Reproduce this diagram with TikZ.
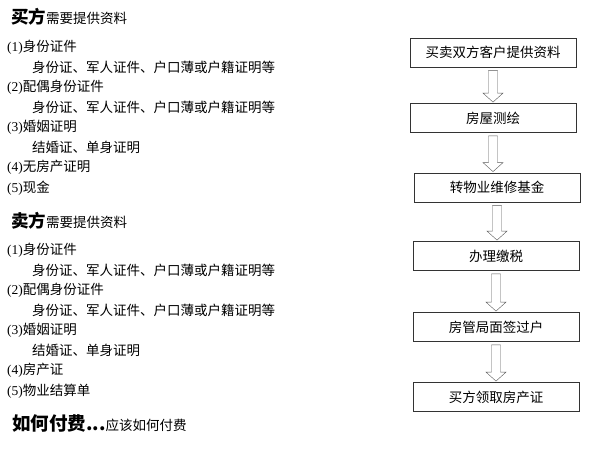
\documentclass[tikz,border=0pt]{standalone}
\usepackage{fontspec}
\setmainfont{Liberation Serif}
\newfontfamily\cjk{Noto Sans CJK SC}
\usetikzlibrary{calc}

\tikzset{
  stepbox/.style={draw=black!80, thick, minimum width=166pt, minimum height=29pt, inner sep=0pt,
    font=\cjk\fontsize{13.5}{16}\selectfont},
  txt/.style={anchor=west, inner sep=0pt, font=\fontsize{13.5}{16}\selectfont},
  hollowarrow/.style={draw=black!65, fill=white, line join=miter},
}

% hollow down arrow from one box to the next
\newcommand{\flowarrow}[2]{%
\draw[hollowarrow] let \p1=(#1.south), \p2=(#2.north) in
  (\x1-4.5pt,\y1-3pt) -- (\x1-4.5pt,\y2+10pt) -- (\x1-10pt,\y2+10pt) -- (\x1,\y2+1pt)
  -- (\x1+10pt,\y2+10pt) -- (\x1+4.5pt,\y2+10pt) -- (\x1+4.5pt,\y1-3pt) -- cycle;}

\begin{document}
\begin{tikzpicture}[x=1pt,y=-1pt]
\useasboundingbox (0,0) rectangle (612,450);

% buyer
\node[txt] (buyer) at (11,17) {{\cjk\bfseries\fontsize{17.5}{20}\selectfont 买方}{\cjk 需要提供资料}};
\node[txt] (b1)  at (7,47)   {(1){\cjk 身份证件}};
\node[txt] (b1a) at (32,67)  {\cjk 身份证、军人证件、户口薄或户籍证明等};
\node[txt] (b2)  at (7,87)   {(2){\cjk 配偶身份证件}};
\node[txt] (b2a) at (32,107) {\cjk 身份证、军人证件、户口薄或户籍证明等};
\node[txt] (b3)  at (7,127)  {(3){\cjk 婚姻证明}};
\node[txt] (b3a) at (32,147) {\cjk 结婚证、单身证明};
\node[txt] (b4)  at (7,167)  {(4){\cjk 无房产证明}};
\node[txt] (b5)  at (7,188)  {(5){\cjk 现金}};

% seller
\node[txt] (seller) at (11,221) {{\cjk\bfseries\fontsize{17.5}{20}\selectfont 卖方}{\cjk 需要提供资料}};
\node[txt] (s1)  at (7,250)  {(1){\cjk 身份证件}};
\node[txt] (s1a) at (32,270) {\cjk 身份证、军人证件、户口薄或户籍证明等};
\node[txt] (s2)  at (7,290)  {(2){\cjk 配偶身份证件}};
\node[txt] (s2a) at (32,310) {\cjk 身份证、军人证件、户口薄或户籍证明等};
\node[txt] (s3)  at (7,330)  {(3){\cjk 婚姻证明}};
\node[txt] (s3a) at (32,350) {\cjk 结婚证、单身证明};
\node[txt] (s4)  at (7,370)  {(4){\cjk 房产证}};
\node[txt] (s5)  at (7,391)  {(5){\cjk 物业结算单}};

% payment
\node[txt] (pay) at (12,423) {{\cjk\bfseries\fontsize{18.5}{20}\selectfont 如何付费...}{\cjk 应该如何付费}};

% flow
\node[stepbox] (f1) at (493,52.5) {买卖双方客户提供资料};
\node[stepbox] (f2) at (493,118)  {房屋测绘};
\node[stepbox] (f3) at (497,187.5){转物业维修基金};
\node[stepbox] (f4) at (496,256)  {办理缴税};
\node[stepbox] (f5) at (496,327)  {房管局面签过户};
\node[stepbox] (f6) at (496,397)  {买方领取房产证};

\flowarrow{f1}{f2}
\flowarrow{f2}{f3}
\flowarrow{f3}{f4}
\flowarrow{f4}{f5}
\flowarrow{f5}{f6}

\end{tikzpicture}
\end{document}
